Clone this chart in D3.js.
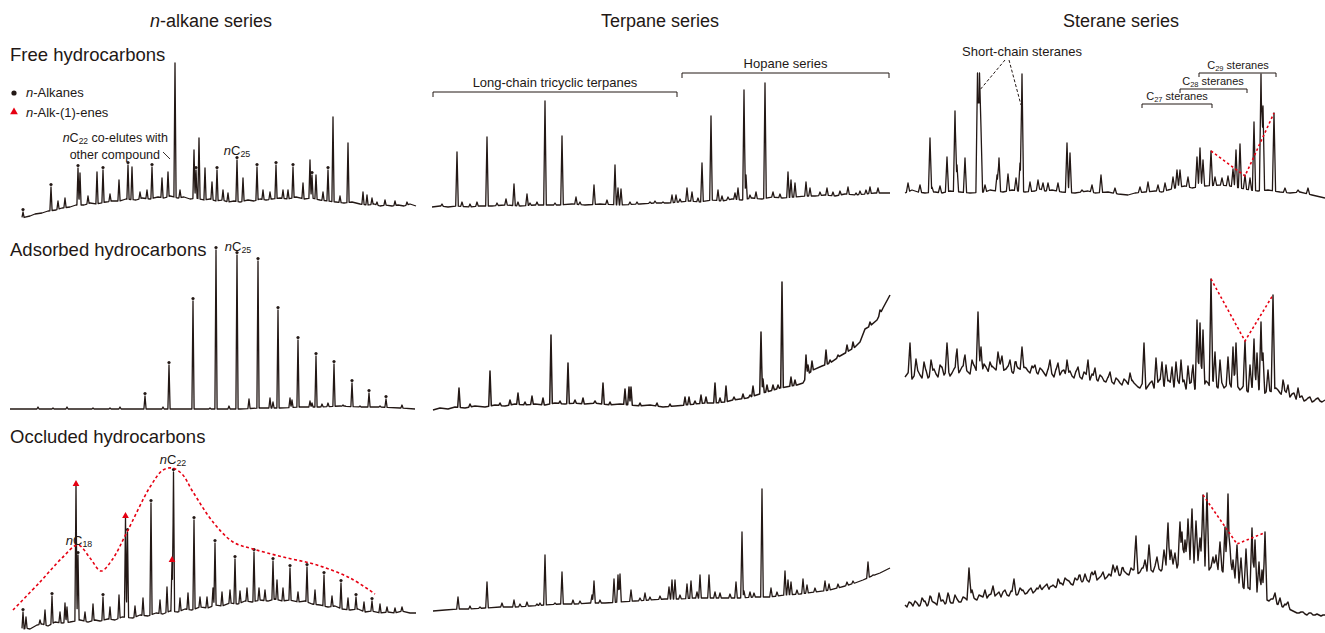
<!DOCTYPE html>
<html><head><meta charset="utf-8">
<script src="https://cdn.jsdelivr.net/npm/d3@7"></script>
<style>body{margin:0;background:#fff}svg{display:block;font-family:"Liberation Sans",Arial,sans-serif}</style>
</head><body><svg id="c" width="1325" height="633"></svg>
<script>
// ---------- DATA (retention units, relative abundance) ----------
const columnTitles = ["n-alkane series", "Terpane series", "Sterane series"];
const rowTitles = ["Free hydrocarbons", "Adsorbed hydrocarbons", "Occluded hydrocarbons"];

// Free – n-alkanes
const freeAlkBase = [[12,2],[20,4],[25,6],[32,7],[38,9],[46,10],[52,12],[60,13],[66,15],[74,15],[80,17],[86,16],[96,18],[102,19],[110,19],[116,21],[126,20],[132,22],[140,21],[148,23],[154,22],[160,24],[168,22],[174,23],[180,21],[186,22],[194,20],[200,21],[206,19],[212,20],[218,18],[224,19],[230,18],[238,20],[244,19],[250,21],[256,20],[262,21],[270,22],[278,21],[286,23],[294,21],[302,22],[310,20],[318,19],[326,18],[334,17],[342,18],[350,16],[358,15],[364,16],[370,14],[376,15],[382,14],[388,15],[394,14],[400,16],[406,14]];
const freeAlkPeaks = [[13,8,"a"],[41,33,"a"],[55,22],[68,52,"a"],[70,47],[87,48],[93,50,"a"],[109,40],[118,55,"a"],[122,53],[142,53,"a"],[152,42],[158,48],[165,157],[184,70],[186,50,"a"],[189,82],[195,52],[202,38],[207,50,"a"],[213,30],[227,60,"a"],[233,42],[247,53,"a"],[253,30],[266,55,"a"],[273,30],[283,53,"a"],[293,37],[300,60],[302,45,"a"],[306,45],[313,28],[318,50,"a"],[323,103],[338,77],[353,28],[357,25],[367,18],[397,18]];
const freeAlkMinor = [[48,19],[78,24],[100,26],[130,28],[137,30],[170,30],[218,27],[260,28],[278,30],[330,24],[362,22],[375,20],[385,19]];

// Free – terpanes
const freeTerBase = [[2,13],[10,14],[18,13],[26,14],[40,13],[50,14],[62,14],[75,15],[90,14],[105,15],[118,15],[130,15],[142,16],[155,15],[170,16],[190,15],[210,16],[225,17],[238,17],[250,18],[260,19],[270,18],[282,20],[292,19],[302,21],[312,20],[322,22],[332,21],[342,23],[352,22],[365,23],[375,24],[385,24],[395,25],[405,24],[415,26],[425,25],[435,26],[445,27],[460,27]];
const freeTerPeaks = [[27,68],[32,18],[47,18],[57,83],[67,17],[76,21],[84,36],[88,18],[97,26],[107,18],[115,119],[125,17],[132,84],[146,23],[164,35],[177,20],[185,55],[188,32],[191,31],[207,18],[220,18],[233,18],[242,25],[246,25],[257,32],[262,28],[272,57],[281,104],[288,30],[298,23],[305,27],[308,32],[314,130],[316,45],[326,28],[335,137],[343,28],[358,48],[361,40],[365,37],[376,38],[380,32],[397,32],[403,28],[418,33],[426,27],[436,30],[440,33],[448,32]];
const freeTerMinor = [[12,16],[40,16],[100,17],[150,18],[200,18],[225,19],[250,21],[268,22],[292,24],[320,25],[350,26],[390,28],[410,29],[430,29]];

// Free – steranes
const freeSteBase = [[5,27],[12,30],[18,28],[25,27],[35,28],[42,27],[50,29],[60,28],[70,27],[85,28],[90,30],[103,28],[112,30],[125,28],[135,29],[140,31],[145,29],[152,30],[162,28],[175,27],[188,29],[195,27],[208,28],[218,26],[228,25],[235,27],[245,28],[255,29],[262,28],[268,30],[275,32],[285,34],[292,32],[305,34],[320,35],[330,34],[340,32],[350,30],[358,29],[368,30],[380,28],[390,27],[400,28],[412,25],[425,22]];
const freeStePeaks = [[8,37],[30,82],[32,33],[47,63],[55,109],[57,55],[65,62],[77.5,147],[79.5,147],[81,92],[97,45],[99,62],[108,46],[116,42],[120,57],[122,146],[148,37],[158,37],[167,77],[170,67],[182,30],[201,45],[240,33],[248,38],[273,43],[277,50],[280,50],[288,43],[297,63],[300,72],[303,60],[311,69],[315,43],[328,44],[333,51],[336,70],[340,76],[345,45],[354,98],[361,146],[363,114],[374,107],[408,32]];
const freeSteMinor = [[20,35],[40,34],[85,35],[130,38],[138,40],[143,37],[192,35],[215,32],[258,35],[265,37],[322,42],[350,42],[385,32],[398,30]];

// Adsorbed – n-alkanes
const adsAlkBase = [[0,11],[40,11],[90,11],[140,11],[190,11],[230,11],[250,12],[270,12],[290,13],[310,13],[330,14],[350,13],[370,13],[390,12],[405,11]];
const adsAlkPeaks = [[28,13],[43,12],[57,13],[83,12],[100,12],[110,13],[135,24,"a"],[153,13],[159,55,"a"],[183,119,"a"],[200,12],[206,170,"a"],[219,14],[227,165,"a"],[239,21],[248,159,"a"],[260,22],[268,110,"a"],[280,22],[288,80,"a"],[300,19],[306,64,"a"],[318,17],[324,56,"a"],[333,15],[342,37,"a"],[350,14],[359,27,"a"],[376,21,"a"],[392,15]];
const adsAlkMinor = [[263,18],[282,20],[302,17],[312,16],[335,14],[370,14]];

// Adsorbed – terpanes
const adsTerBase = [[3,10],[10,12],[18,11],[25,13],[35,12],[45,14],[55,13],[65,15],[75,14],[85,16],[95,15],[105,16],[115,15],[125,17],[135,16],[145,17],[155,16],[165,17],[180,15],[190,16],[200,15],[210,14],[220,15],[233,13],[245,14],[255,15],[265,16],[275,17],[285,17],[295,18],[303,20],[317,22],[333,27],[350,32],[367,35],[373,37],[378,46],[383,50],[392,54],[400,57],[410,64],[417,68],[425,73],[430,78],[435,91],[440,94],[447,100],[453,112],[460,125]];
const adsTerPeaks = [[29,32],[60,49],[80,20],[88,27],[102,24],[113,22],[121,85],[138,57],[153,22],[173,37],[195,31],[199,33],[201,33],[227,17],[255,23],[259,23],[271,25],[276,23],[285,37],[296,34],[304,23],[313,26],[323,34],[331,88],[333,41],[337,35],[343,35],[352,138],[361,43],[376,65],[378,55],[382,59],[396,70],[400,60],[417,75],[423,78]];
const adsTerMinor = [[40,16],[70,17],[95,18],[130,19],[145,20],[165,19],[180,18],[210,17],[240,16],[265,19],[290,22],[320,25],[348,35],[365,40],[388,52],[408,65],[440,98],[450,110]];

// Adsorbed – steranes
const adsSteBase = [[5,43],[8,47],[12,41],[16,50],[20,45],[24,48],[28,42],[32,49],[36,46],[40,51],[44,45],[48,50],[52,47],[56,54],[60,49],[64,55],[68,48],[72,53],[76,50],[80,52],[84,56],[88,49],[92,54],[96,50],[100,57],[104,50],[108,54],[112,48],[116,55],[120,51],[124,53],[128,49],[132,54],[136,48],[140,52],[144,47],[148,51],[152,46],[156,51],[160,45],[164,50],[168,47],[172,44],[176,49],[180,43],[184,48],[188,42],[192,46],[196,41],[200,45],[204,39],[208,43],[212,38],[216,42],[220,37],[224,41],[228,36],[232,40],[236,35],[240,32],[244,37],[248,34],[252,39],[256,35],[260,41],[264,34],[268,40],[272,36],[276,42],[280,35],[284,40],[288,33],[292,38],[296,32],[300,39],[304,34],[308,37],[312,40],[316,34],[320,39],[324,32],[328,37],[332,31],[336,36],[340,30],[344,35],[348,28],[352,33],[356,27],[360,32],[364,26],[368,31],[372,28],[376,32],[380,27],[384,30],[388,24],[392,26],[396,21],[400,23],[404,19],[408,22],[412,18],[416,21],[420,19],[425,20]];
const adsSteFine = [[10,52],[14,44],[18,49],[22,42],[26,50],[30,44],[34,51],[38,43],[42,53],[46,48],[50,44],[54,51],[58,46],[62,53],[66,50],[70,46],[74,55],[78,47],[82,48],[86,53],[90,46],[94,52],[98,55],[102,47],[106,51],[110,53],[114,46],[118,52],[122,48],[126,52],[130,47],[134,51],[138,46],[142,50],[146,44],[150,49],[154,43],[158,48],[162,49],[166,44],[170,49],[174,42],[178,47],[182,41],[186,46],[190,40],[194,44],[198,39],[202,43],[206,38],[210,41],[214,36],[218,40],[222,35],[226,39],[230,34],[234,37],[238,33],[242,36],[246,31],[250,37],[254,32],[258,38],[262,36],[266,32],[270,38],[274,33],[278,39],[282,37],[286,31],[290,37],[294,30],[298,36],[302,32],[306,39],[310,33],[314,38],[318,32],[322,37],[326,34],[330,36],[334,30],[338,33],[342,32],[346,30],[350,30],[354,31],[358,29],[362,30],[366,28],[370,29],[374,31],[378,30],[382,25],[386,28],[390,23],[394,27],[398,20],[402,24],[406,20],[410,23],[414,19],[418,22],[422,18]];
const adsStePeaks = [[10,77],[16,61],[31,60],[47,77],[57,71],[65,65],[78,108],[81,73],[98,68],[102,64],[110,60],[122,73],[150,60],[167,60],[188,60],[244,77],[256,62],[266,55],[272,53],[281,60],[288,54],[297,100],[300,97],[303,90],[311,141],[315,68],[328,63],[333,73],[336,77],[345,79],[354,81],[357,67],[361,98],[363,67],[373,125],[383,40],[398,32]];
const adsSteMinor = [[24,58],[40,55],[72,60],[90,58],[115,58],[135,55],[158,57],[178,53],[195,52],[210,48],[230,47],[262,58],[276,58],[293,55],[320,60],[350,55],[368,50],[388,35]];

// Occluded – n-alkanes (a = n-alkane, e = n-alk-1-ene)
const occAlkBase = [[12,10],[16,12],[20,11],[27,15],[32,16],[38,14],[45,18],[52,17],[60,18],[70,20],[78,18],[85,20],[90,19],[98,21],[105,20],[112,23],[123,22],[130,25],[138,24],[146,27],[153,26],[160,29],[168,28],[175,31],[182,30],[190,33],[198,32],[205,35],[212,34],[220,37],[228,36],[235,39],[242,38],[250,40],[258,39],[265,41],[272,39],[280,40],[288,38],[295,39],[302,36],[310,35],[318,33],[325,34],[332,31],[340,30],[348,31],[355,28],[362,29],[370,27],[378,28],[385,27],[392,29],[400,27],[406,27]];
const occAlkPeaks = [[13,28,"a"],[16,23],[30,20],[42,44,"a"],[55,37],[57,33],[66,155,"e"],[68,85,"a"],[83,36],[93,43,"a"],[109,45],[115.5,123,"e"],[117.5,108,"a"],[133,42],[141,137,"a"],[157,53],[162,79,"e"],[163.5,168,"a"],[178,47],[184,120,"a"],[197,43],[203,52],[205,97,"a"],[220,50],[225,81,"a"],[237,52],[244,88,"a"],[249,52],[263,79,"a"],[267,60],[280,72,"a"],[297,73,"a"],[314,65,"a"],[331,57,"a"],[346,43,"a"],[362,39,"a"],[377,33],[392,33]];
const occAlkMinor = [[35,30],[50,28],[75,28],[100,33],[125,34],[150,40],[170,42],[190,43],[212,48],[230,49],[255,50],[273,52],[288,48],[305,50],[322,44],[338,42],[354,38],[370,36],[385,32]];
const occAlkEnvelope = [[3,30],[30,58],[52,82],[68,95],[80,82],[91,69],[102,80],[117,108],[140,153],[153,170],[162,172],[172,166],[183,148],[203,118],[223,98],[243,91],[273,83],[307,75],[340,62],[365,46]];

// Occluded – terpanes
const occTerBase = [[3,29],[15,30],[28,31],[40,31],[55,32],[70,33],[85,33],[100,34],[115,35],[130,36],[145,36],[160,37],[175,37],[190,38],[205,39],[220,40],[235,41],[250,41],[265,42],[280,42],[295,42],[310,42],[325,43],[340,43],[355,45],[370,46],[385,48],[400,50],[415,54],[425,57],[433,60],[442,64],[450,67],[460,72]];
const occTerPeaks = [[28,43],[57,58],[72,37],[84,40],[97,38],[107,36],[115,85],[125,37],[132,68],[143,40],[162,45],[164,59],[184,61],[188,65],[190,66],[201,50],[215,47],[230,44],[239,53],[242,60],[245,60],[257,56],[261,59],[270,65],[279,65],[285,48],[306,58],[312,108],[314,49],[324,47],[332,151],[341,52],[355,69],[358,60],[361,58],[373,61],[377,55],[395,59],[399,56],[417,58],[423,59],[438,78],[443,65]];
const occTerMinor = [[40,34],[50,33],[90,36],[110,37],[150,39],[170,40],[210,42],[220,43],[250,45],[267,48],[290,47],[300,46],[320,48],[347,48],[367,50],[385,52],[408,56]];

// Occluded – steranes
const occSteBase = [[5,35],[9,38],[13,34],[17,37],[21,35],[25,39],[29,36],[33,38],[37,35],[41,39],[45,36],[49,40],[53,37],[57,41],[61,38],[65,42],[69,39],[73,43],[77,40],[81,44],[85,41],[89,45],[93,42],[97,46],[101,43],[105,47],[109,44],[113,48],[117,45],[121,49],[125,46],[129,50],[133,47],[137,52],[141,49],[145,54],[149,50],[153,55],[157,52],[161,57],[165,54],[169,59],[173,55],[177,60],[181,57],[185,62],[189,58],[193,63],[197,60],[201,64],[205,61],[209,66],[213,63],[217,68],[221,64],[225,68],[229,65],[233,70],[237,66],[241,69],[245,67],[249,72],[253,68],[257,73],[261,69],[265,74],[269,71],[273,76],[277,72],[281,78],[285,74],[289,80],[293,76],[297,80],[301,77],[305,74],[309,70],[313,73],[317,69],[321,71],[325,65],[329,62],[333,64],[337,58],[341,55],[345,50],[349,52],[353,46],[357,48],[361,42],[365,44],[369,39],[373,41],[377,36],[381,34],[385,36],[389,31],[393,29],[397,27],[401,28],[405,26],[409,27],[413,25],[417,26],[421,24],[425,25]];
const occSteFine = [[7,33],[11,37],[15,39],[19,34],[23,38],[27,34],[31,40],[35,37],[39,36],[43,40],[47,38],[51,37],[55,42],[59,38],[63,43],[67,40],[71,44],[75,41],[79,45],[83,43],[87,42],[91,46],[95,44],[99,43],[103,48],[107,45],[111,49],[115,46],[119,47],[123,50],[127,47],[131,52],[135,49],[139,50],[143,52],[147,56],[151,53],[155,53],[159,56],[163,55],[167,60],[171,56],[175,58],[179,62],[183,59],[187,60],[191,64],[195,61],[199,62],[203,66],[207,63],[211,64],[215,68],[219,65],[223,70],[227,66],[231,68],[235,71],[239,67],[243,71],[247,69],[251,70],[255,74],[259,71],[263,72],[267,76],[271,73],[275,74],[279,79],[283,75],[287,77],[291,81],[295,78],[299,79],[303,75],[307,72],[311,73],[315,71],[319,72],[323,68],[327,64],[331,61],[335,62],[339,57],[343,53],[347,52],[351,49],[355,47],[359,44],[363,44],[367,40],[371,41],[375,37],[379,35],[383,33],[387,34],[391,30],[395,28],[399,27],[403,28],[407,25],[411,27],[415,25],[419,25],[423,25]];
const occStePeaks = [[39,47],[48,47],[69,72],[72,50],[93,54],[99,48],[114,61],[128,48],[150,53],[158,61],[175,62],[180,65],[192,68],[195,69],[213,75],[217,74],[231,72],[236,104],[242,72],[249,95],[257,83],[264,90],[268,117],[271,90],[280,118],[282,108],[288,121],[292,131],[296,119],[300,102],[303,145],[307,147],[313,83],[320,98],[325,113],[328,146],[330,93],[337,95],[346,91],[352,112],[355,100],[365,108],[375,47],[388,38]];
const occSteMinor = [[22,42],[30,44],[55,45],[85,50],[105,50],[120,52],[140,55],[165,62],[185,66],[203,68],[222,72],[245,80],[275,87],[285,100],[316,85],[333,80],[341,82],[359,78],[362,70],[380,42]];

// Red guide lines through C27 / C28 / C29 sterane peaks
const freeSteGuide = [[311,69],[345,44],[374,107]];
const adsSteGuide = [[311,141],[345,79],[373,125]];
const occSteGuide = [[303,145],[337,96],[364,107]];

// ---------- LAYOUT ----------
const INK = "#231815", RED = "#e60012";
const colX = [10, 430, 900];
const rowFloor = [220, 420, 640];
const svg = d3.select("#c");
const byRt = (a, b) => a[0] - b[0];

const panels = [
  {c:0,r:0,base:freeAlkBase,peaks:freeAlkPeaks,minor:freeAlkMinor,w:1.1,sw:1.3},
  {c:1,r:0,base:freeTerBase,peaks:freeTerPeaks,minor:freeTerMinor,w:1.3,sw:1.3},
  {c:2,r:0,base:freeSteBase,peaks:freeStePeaks,minor:freeSteMinor,w:1.6,sw:1.3},
  {c:0,r:1,base:adsAlkBase,peaks:adsAlkPeaks,minor:adsAlkMinor,w:1.1,sw:1.3},
  {c:1,r:1,base:adsTerBase,peaks:adsTerPeaks,minor:adsTerMinor,w:1.3,sw:1.5},
  {c:2,r:1,base:adsSteBase.concat(adsSteFine).sort(byRt),peaks:adsStePeaks,minor:adsSteMinor,w:1.8,sw:1.4},
  {c:0,r:2,base:occAlkBase,peaks:occAlkPeaks,minor:occAlkMinor,w:1.1,sw:1.3},
  {c:1,r:2,base:occTerBase,peaks:occTerPeaks,minor:occTerMinor,w:1.3,sw:1.3},
  {c:2,r:2,base:occSteBase.concat(occSteFine).sort(byRt),peaks:occStePeaks,minor:occSteMinor,w:2.0,sw:1.4}
];

function scalesFor(c, r) {
  const x = d3.scaleLinear().domain([0, 470]).range([colX[c], colX[c] + 470]);
  const y = d3.scaleLinear().domain([0, 200]).range([rowFloor[r], rowFloor[r] - 200]);
  return {x, y};
}

panels.forEach(p => {
  const {x, y} = scalesFor(p.c, p.r);
  const bl = d3.scaleLinear().domain(p.base.map(d => d[0])).range(p.base.map(d => d[1])).clamp(true);
  const bumps = p.peaks.concat(p.minor).map(d => ({c: d[0], h: d[1] - bl(d[0]), w: p.w})).filter(b => b.h > 0);
  const xs = new Set(p.base.map(d => d[0]));
  bumps.forEach(b => { xs.add(b.c - b.w); xs.add(b.c); xs.add(b.c + b.w); });
  const lo = p.base[0][0], hi = p.base[p.base.length - 1][0];
  const sx = Array.from(xs).filter(v => v >= lo && v <= hi).sort((a, b) => a - b);
  const pts = sx.map(v => {
    let m = 0;
    bumps.forEach(b => { const t = 1 - Math.abs(v - b.c) / b.w; if (t > 0) m = Math.max(m, b.h * t); });
    return [v, bl(v) + m];
  });
  const line = d3.line().x(d => x(d[0])).y(d => y(d[1]));
  svg.append("path").attr("d", line(pts)).attr("fill", "none")
    .attr("stroke", INK).attr("stroke-width", p.sw).attr("stroke-linejoin", "round");
  p.peaks.filter(d => d[2] === "a").forEach(d => {
    svg.append("circle").attr("cx", x(d[0])).attr("cy", y(d[1]) - 2.5).attr("r", 1.6).attr("fill", INK);
  });
  p.peaks.filter(d => d[2] === "e").forEach(d => {
    svg.append("path").attr("d", d3.symbol(d3.symbolTriangle, 20)())
      .attr("transform", `translate(${x(d[0])},${y(d[1]) - 1})`).attr("fill", RED);
  });
});

// ---------- Titles ----------
const colCenters = [211, 660, 1121];
columnTitles.forEach((t, i) => {
  const tx = svg.append("text").attr("x", colCenters[i]).attr("y", 27).attr("text-anchor", "middle")
    .attr("font-size", 18).attr("fill", INK);
  if (i === 0) { tx.append("tspan").attr("font-style", "italic").text("n"); tx.append("tspan").text("-alkane series"); }
  else tx.text(t);
});
const rowTitleY = [61, 256, 443];
rowTitles.forEach((t, i) => {
  svg.append("text").attr("x", 10).attr("y", rowTitleY[i]).attr("font-size", 18.5).attr("fill", INK).text(t);
});

// legend
svg.append("circle").attr("cx", 14).attr("cy", 93).attr("r", 2.6).attr("fill", INK);
const l1 = svg.append("text").attr("x", 26).attr("y", 97).attr("font-size", 13).attr("fill", INK);
l1.append("tspan").attr("font-style", "italic").text("n"); l1.append("tspan").text("-Alkanes");
svg.append("path").attr("d", d3.symbol(d3.symbolTriangle, 26)()).attr("transform", "translate(14,112)").attr("fill", RED);
const l2 = svg.append("text").attr("x", 26).attr("y", 117).attr("font-size", 13).attr("fill", INK);
l2.append("tspan").attr("font-style", "italic").text("n"); l2.append("tspan").text("-Alk-(1)-enes");

function nC(sel, sub, size) {
  sel.append("tspan").attr("font-style", "italic").text("n");
  sel.append("tspan").text("C");
  sel.append("tspan").attr("font-size", size * 0.68).attr("dy", 2).text(sub);
}

{
  const {x, y} = scalesFor(0, 0);
  const t1 = svg.append("text").attr("x", x(158)).attr("y", y(78)).attr("text-anchor", "end").attr("font-size", 12.5).attr("fill", INK);
  nC(t1, "22", 12.5); t1.append("tspan").attr("dy", -2).text(" co-elutes with");
  svg.append("text").attr("x", x(150)).attr("y", y(61)).attr("text-anchor", "end").attr("font-size", 12.5).attr("fill", INK).text("other compound");
  svg.append("line").attr("x1", x(153)).attr("y1", y(68)).attr("x2", x(160)).attr("y2", y(61)).attr("stroke", INK).attr("stroke-width", 0.9);
  const t2 = svg.append("text").attr("x", x(227)).attr("y", y(65)).attr("text-anchor", "middle").attr("font-size", 13).attr("fill", INK);
  nC(t2, "25", 13);
}
{
  const {x, y} = scalesFor(0, 1);
  const t = svg.append("text").attr("x", x(228)).attr("y", y(169)).attr("text-anchor", "middle").attr("font-size", 13).attr("fill", INK);
  nC(t, "25", 13);
}
{
  const {x, y} = scalesFor(0, 2);
  svg.append("path").attr("d", d3.line().x(d => x(d[0])).y(d => y(d[1])).curve(d3.curveCatmullRom)(occAlkEnvelope))
    .attr("fill", "none").attr("stroke", RED).attr("stroke-width", 1.6).attr("stroke-dasharray", "3,2.5");
  const t1 = svg.append("text").attr("x", x(69)).attr("y", y(95)).attr("text-anchor", "middle").attr("font-size", 13).attr("fill", INK);
  nC(t1, "18", 13);
  const t2 = svg.append("text").attr("x", x(163)).attr("y", y(176)).attr("text-anchor", "middle").attr("font-size", 13).attr("fill", INK);
  nC(t2, "22", 13);
}
{
  const {x, y} = scalesFor(1, 0);
  const br = (a, b, h, label) => {
    svg.append("path").attr("d", `M${x(a)},${y(h) + 5}V${y(h)}H${x(b)}V${y(h) + 5}`).attr("fill", "none").attr("stroke", INK).attr("stroke-width", 1);
    svg.append("text").attr("x", x((a + b) / 2)).attr("y", y(h) - 5).attr("text-anchor", "middle").attr("font-size", 13).attr("fill", INK).text(label);
  };
  br(3, 247, 128, "Long-chain tricyclic terpanes");
  br(252, 459, 147, "Hopane series");
}
{
  const {x, y} = scalesFor(2, 0);
  svg.append("text").attr("x", x(122)).attr("y", y(164)).attr("text-anchor", "middle").attr("font-size", 13).attr("fill", INK).text("Short-chain steranes");
  [[[105, 160], [79, 129]], [[109, 160], [121, 115]]].forEach(s => {
    svg.append("line").attr("x1", x(s[0][0])).attr("y1", y(s[0][1])).attr("x2", x(s[1][0])).attr("y2", y(s[1][1]))
      .attr("stroke", INK).attr("stroke-width", 1).attr("stroke-dasharray", "3,2");
  });
  const br = (a, b, h, sub, tx) => {
    svg.append("path").attr("d", `M${x(a)},${y(h) + 4}V${y(h)}H${x(b)}V${y(h) + 4}`).attr("fill", "none").attr("stroke", INK).attr("stroke-width", 1);
    const t = svg.append("text").attr("x", x(tx)).attr("y", y(h) - 4).attr("text-anchor", "middle").attr("font-size", 11).attr("fill", INK);
    t.append("tspan").text("C");
    t.append("tspan").attr("font-size", 7.5).attr("dy", 2).text(sub);
    t.append("tspan").attr("dy", -2).text(" steranes");
  };
  br(242, 312, 116, "27", 277);
  br(280, 347, 131, "28", 313);
  br(299, 376, 147, "29", 338);
}
[[0, freeSteGuide], [1, adsSteGuide], [2, occSteGuide]].forEach(([r, g]) => {
  const {x, y} = scalesFor(2, r);
  svg.append("path").attr("d", d3.line().x(d => x(d[0])).y(d => y(d[1]))(g))
    .attr("fill", "none").attr("stroke", RED).attr("stroke-width", 1.6).attr("stroke-dasharray", "2.5,2.5");
});
</script></body></html>
